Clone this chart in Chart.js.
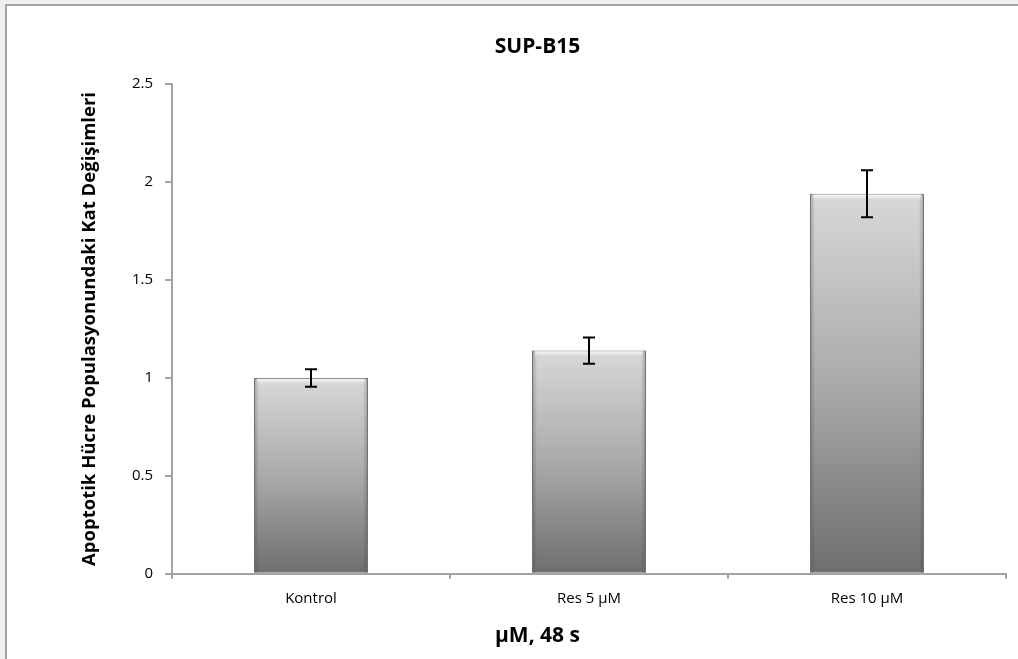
<!DOCTYPE html>
<html>
    <head>
        <meta charset="utf-8">
        <script src="https://cdn.jsdelivr.net/npm/chart.js@4"></script>
        <style>
            html, body {
                margin: 0;
                background: #efefef;
                overflow: hidden;
            }

            .frame {
                position: absolute;
                left: 5px;
                top: 4px;
                width: 1300px;
                height: 900px;
                background: white;
                border-left: 2px solid #a3a3a3;
                border-top: 2px solid #a3a3a3;
            }

            .wykres {
                position: absolute;
                left: 0;
                top: 0;
            }
        </style>
    </head>

    <body>
        <div class="frame"></div>
        <canvas id="wykres" class="wykres" width="1075" height="659"></canvas>

        <script>
            // dane z wykresu
            const categories = ["Kontrol", "Res 5 µM", "Res 10 µM"];
            const foldChange = [1.0, 1.14, 1.94];
            const errors = [0.045, 0.067, 0.12];
            const yTickValues = [0, 0.5, 1, 1.5, 2, 2.5];
            const yTickLabels = ["0", "0.5", "1", "1.5", "2", "2.5"];

            const axisGray = "#a3a3a3";
            const font = "'Open Sans', 'DejaVu Sans', sans-serif";

            function barGradient(context) {
                const chart = context.chart;
                const area = chart.chartArea;
                if (!area || context.parsed === undefined) return "#aaaaaa";
                const y = chart.scales.y;
                const top = y.getPixelForValue(context.parsed.y);
                const bottom = y.getPixelForValue(0);
                const g = chart.ctx.createLinearGradient(0, top, 0, bottom);
                g.addColorStop(0, "#d8d8d8");
                g.addColorStop(0.5, "#aaaaaa");
                g.addColorStop(1, "#6e6e6e");
                return g;
            }

            // slupki bledow
            const errorBars = {
                id: "errorBars",
                afterDatasetsDraw(chart) {
                    const ctx = chart.ctx;
                    const y = chart.scales.y;
                    const meta = chart.getDatasetMeta(0);
                    ctx.save();
                    ctx.strokeStyle = "#000";
                    ctx.lineWidth = 2;
                    meta.data.forEach((bar, i) => {
                        const hi = y.getPixelForValue(foldChange[i] + errors[i]);
                        const lo = y.getPixelForValue(foldChange[i] - errors[i]);
                        ctx.beginPath();
                        ctx.moveTo(bar.x, hi);
                        ctx.lineTo(bar.x, lo);
                        ctx.moveTo(bar.x - 6, hi);
                        ctx.lineTo(bar.x + 6, hi);
                        ctx.moveTo(bar.x - 6, lo);
                        ctx.lineTo(bar.x + 6, lo);
                        ctx.stroke();
                    });
                    ctx.restore();
                }
            };

            // lekki efekt wypuklosci na krawedziach slupkow
            const bevel = {
                id: "bevel",
                afterDatasetsDraw(chart) {
                    const ctx = chart.ctx;
                    const meta = chart.getDatasetMeta(0);
                    ctx.save();
                    meta.data.forEach(bar => {
                        const left = bar.x - bar.width / 2;
                        const right = bar.x + bar.width / 2;
                        const h = bar.base - bar.y;
                        const gl = ctx.createLinearGradient(left, 0, left + 5, 0);
                        gl.addColorStop(0, "rgba(60,60,60,0.35)");
                        gl.addColorStop(1, "rgba(60,60,60,0)");
                        ctx.fillStyle = gl;
                        ctx.fillRect(left, bar.y, 5, h);
                        const gr = ctx.createLinearGradient(right - 5, 0, right, 0);
                        gr.addColorStop(0, "rgba(60,60,60,0)");
                        gr.addColorStop(1, "rgba(60,60,60,0.35)");
                        ctx.fillStyle = gr;
                        ctx.fillRect(right - 5, bar.y, 5, h);
                        const gt = ctx.createLinearGradient(0, bar.y, 0, bar.y + 6);
                        gt.addColorStop(0, "rgba(255,255,255,0.9)");
                        gt.addColorStop(1, "rgba(255,255,255,0)");
                        ctx.fillStyle = gt;
                        ctx.fillRect(left + 3, bar.y + 1, bar.width - 6, 6);
                    });
                    ctx.restore();
                }
            };

            const dane = {
                labels: categories,
                datasets: [{
                    data: foldChange,
                    backgroundColor: barGradient,
                    borderColor: "rgba(110,110,110,0.8)",
                    borderWidth: 1,
                    borderSkipped: "bottom",
                    barPercentage: 1,
                    categoryPercentage: 0.41
                }]
            };

            const ctx = document.getElementById("wykres").getContext("2d");
            let wykres = new Chart(ctx, {
                type: "bar",
                data: dane,
                plugins: [bevel, errorBars],
                options: {
                    responsive: false,
                    animation: false,
                    layout: { padding: 0 },
                    plugins: {
                        legend: { display: false },
                        tooltip: { enabled: false },
                        title: {
                            display: true,
                            text: "SUP-B15",
                            color: "#000",
                            font: { family: font, size: 21, weight: "bold" },
                            padding: { top: 34, bottom: 25 }
                        },
                        subtitle: {
                            display: true,
                            position: "bottom",
                            text: "µM, 48 s",
                            color: "#000",
                            font: { family: font, size: 21, weight: "bold" },
                            padding: { top: 8, bottom: 10 }
                        }
                    },
                    scales: {
                        x: {
                            afterFit(scale) { scale.height = 42; },
                            border: { color: axisGray, width: 2 },
                            grid: {
                                offset: true,
                                drawOnChartArea: false,
                                color: axisGray,
                                lineWidth: 2,
                                tickLength: 5
                            },
                            ticks: {
                                color: "#000",
                                padding: 11,
                                font: { family: font, size: 15 }
                            }
                        },
                        y: {
                            min: 0,
                            max: 2.5,
                            afterFit(scale) { scale.width = 172; },
                            afterBuildTicks(scale) {
                                scale.ticks = yTickValues.map(v => ({ value: v }));
                            },
                            border: { color: axisGray, width: 2 },
                            grid: {
                                drawOnChartArea: false,
                                color: axisGray,
                                lineWidth: 2,
                                tickLength: 7
                            },
                            ticks: {
                                color: "#000",
                                padding: 12,
                                font: { family: font, size: 15 },
                                callback: (value, i) => yTickLabels[i]
                            },
                            title: {
                                display: true,
                                text: "Apoptotik Hücre Populasyonundaki Kat Değişimleri",
                                color: "#000",
                                font: { family: font, size: 18.5, weight: "bold" },
                                padding: { top: 79 }
                            }
                        },
                        // pusty margines po prawej, zeby tytul byl wysrodkowany jak w oryginale
                        spacer: {
                            position: "right",
                            afterFit(scale) { scale.width = 69; },
                            border: { display: false },
                            grid: { display: false },
                            ticks: { display: false }
                        }
                    }
                }
            });
        </script>
    </body>
</html>
